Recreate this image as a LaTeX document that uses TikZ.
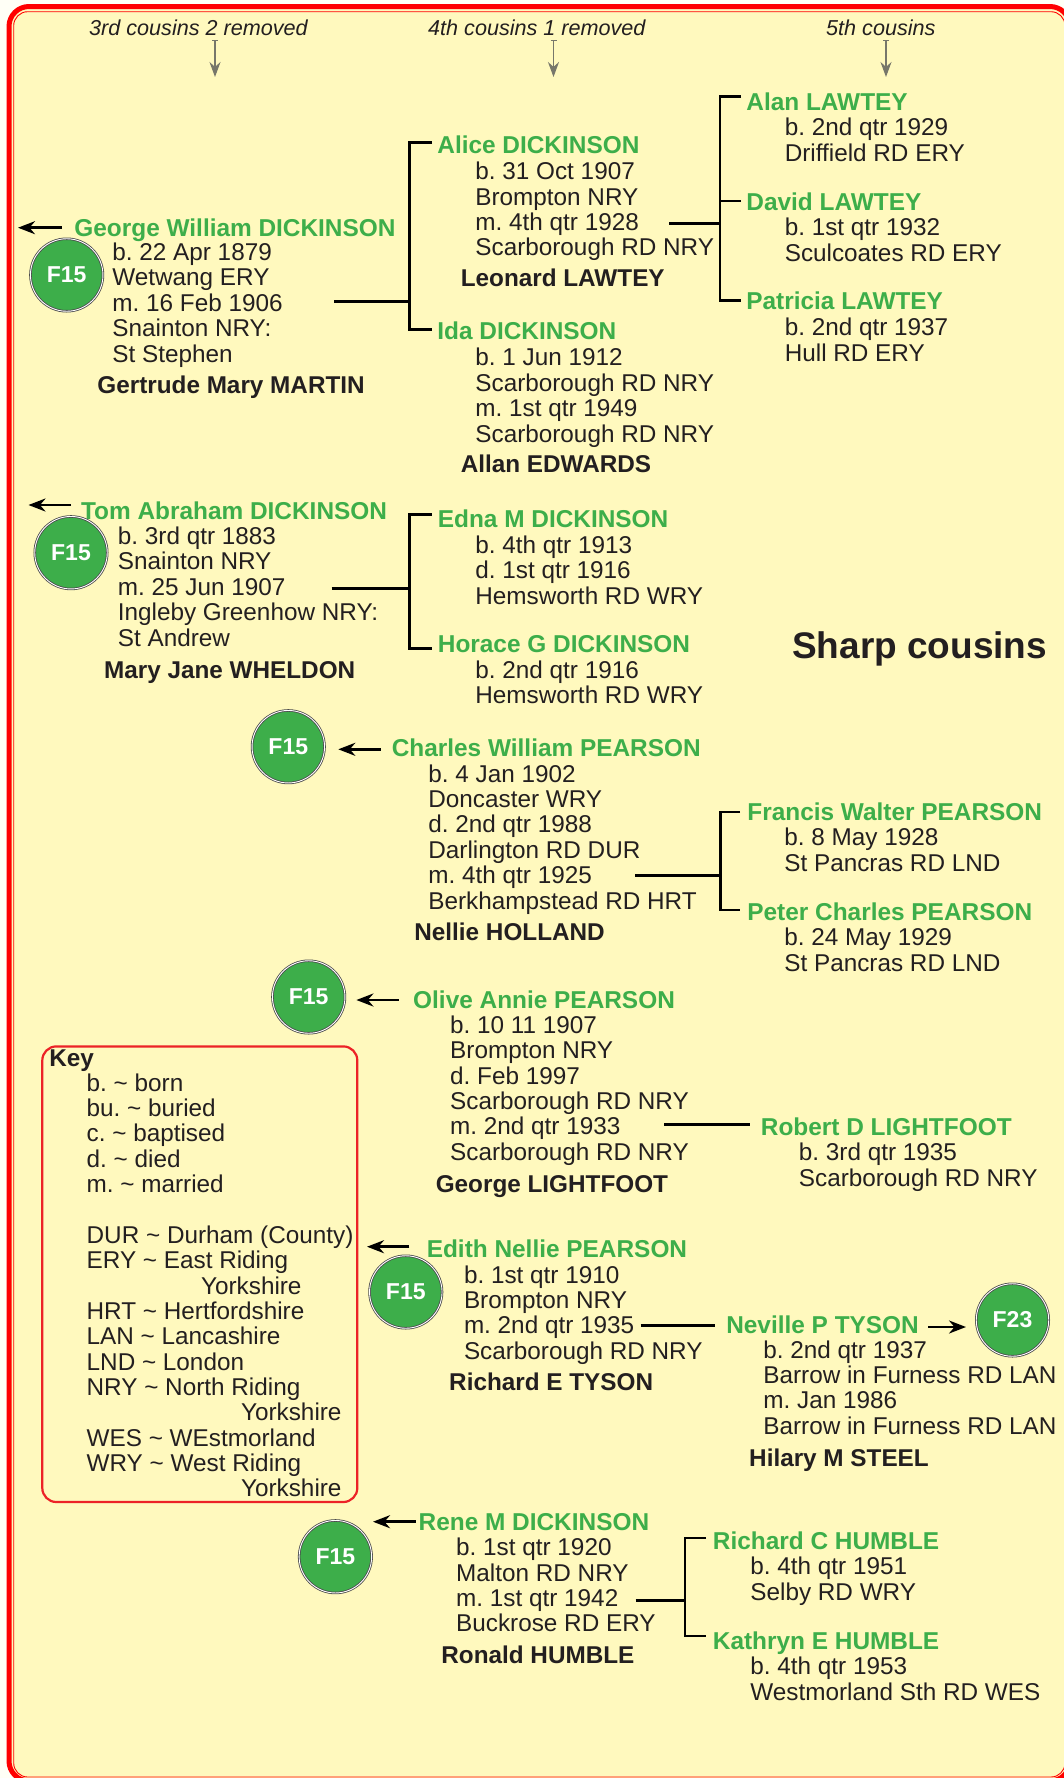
\documentclass[tikz,border=0pt]{standalone}
\usepackage{fontspec}
\setmainfont{Liberation Sans}
\usetikzlibrary{arrows.meta}
\definecolor{paper}{HTML}{FFF9BE}
\definecolor{outside}{HTML}{FFFFF6}
\definecolor{nameGreen}{HTML}{3DAE4A}
\definecolor{inkBlack}{HTML}{231F20}
\definecolor{ringGrey}{HTML}{4A4A4C}
\definecolor{tickGrey}{HTML}{77776A}
\definecolor{keyRed}{HTML}{EC2227}
\frenchspacing
\begin{document}
\begin{tikzpicture}[x=1pt,y=-1pt,>={Stealth[length=17pt,width=13pt]}]
\tikzset{
  person/.style={inner sep=0,anchor=base west,xshift=-.8pt,yshift=-1pt,text=nameGreen,font=\fontsize{24.4}{25.4}\selectfont\bfseries},
  details/.style={inner sep=0,anchor=base west,xshift=-.8pt,yshift=-1pt,align=left,text=inkBlack,font=\fontsize{24.3}{25.35}\selectfont},
  spouse/.style={inner sep=0,anchor=base west,xshift=-.8pt,yshift=-1pt,text=inkBlack,font=\fontsize{24.3}{25.4}\selectfont\bfseries},
  caption/.style={inner sep=0,anchor=base west,text=inkBlack,font=\fontsize{21.6}{25}\selectfont\itshape},
  famdisc/.style={circle,minimum size=72.5pt,inner sep=0,fill=nameGreen,draw=ringGrey,line width=.8pt,double=white,double distance=.9pt,text=white,font=\fontsize{23}{25}\selectfont\bfseries},
  branch/.style={line width=2.6pt,black},
  pointer/.style={->,line width=2.6pt,black},
  gentick/.style={{Bar[width=6pt,length=.8pt]}-{Stealth[length=15pt,width=11pt]},line width=1.2pt,tickGrey}
}
\useasboundingbox (0,0) rectangle (1064,1778);
% frame
\fill[outside] (0,0) rectangle (1064,1778);
\filldraw[fill=paper,draw=red,line width=5pt,rounded corners=20pt] (9,6.5) rectangle (1070,1781);
\draw[red,line width=.9pt,rounded corners=14pt] (13.7,11.7) rectangle (1065,1777);
% column captions
\node[caption] (capa) at (89,35) {3rd cousins 2 removed};
\node[caption] (capb) at (428,35) {4th cousins 1 removed};
\node[caption] (capc) at (826,35) {5th cousins};
\coordinate (capatop) at (215,40);
\coordinate (capaend) at (215,77);
\coordinate (capbtop) at (553.5,40);
\coordinate (capbend) at (553.5,77);
\coordinate (capctop) at (886,40);
\coordinate (capcend) at (886,77);
\draw[gentick] (capatop) -- (capaend);
\draw[gentick] (capbtop) -- (capbend);
\draw[gentick] (capctop) -- (capcend);
\node[inner sep=0,anchor=base west,text=inkBlack,font=\fontsize{37}{40}\selectfont\bfseries] (title) at (792,658) {Sharp cousins};

% George William
\node[person] (george) at (75,235) {George William DICKINSON};
\node[details] (georgeinfo) at (113,361) {b. 22 Apr 1879\\Wetwang ERY\\m. 16 Feb 1906\\Snainton NRY:\\St Stephen};
\node[spouse] (gertrude) at (98,392.7) {Gertrude Mary MARTIN};
\node[famdisc] (discgeorge) at (66.7,275) {F15};
\coordinate (georgetail) at (62,227.7);
\coordinate (georgetip) at (18,227.7);
\draw[pointer] (georgetail) -- (georgetip);
\node[person] (alice) at (438,152.7) {Alice DICKINSON};
\node[details] (aliceinfo) at (476,254.7) {b. 31 Oct 1907\\Brompton NRY\\m. 4th qtr 1928\\Scarborough RD NRY};
\node[spouse] (leonard) at (461.4,285.7) {Leonard LAWTEY};
\node[person] (ida) at (438,338.7) {Ida DICKINSON};
\node[details] (idainfo) at (476,441) {b. 1 Jun 1912\\Scarborough RD NRY\\m. 1st qtr 1949\\Scarborough RD NRY};
\node[spouse] (allan) at (461.4,471) {Allan EDWARDS};
\coordinate (georgeout) at (334,301.7);
\coordinate (georgebar) at (409.5,301.7);
\coordinate (alicestub) at (432,142.7);
\coordinate (idastub) at (432,329.3);
\draw[branch] (georgeout) -- (georgebar);
\draw[branch] (alicestub) -| (georgebar) |- (idastub);
\node[person] (alan) at (747,109) {Alan LAWTEY};
\node[details] (alaninfo) at (785.4,160) {b. 2nd qtr 1929\\Driffield RD ERY};
\node[person] (david) at (747,209) {David LAWTEY};
\node[details] (davidinfo) at (785.4,260) {b. 1st qtr 1932\\Sculcoates RD ERY};
\node[person] (patricia) at (747,308.7) {Patricia LAWTEY};
\node[details] (patriciainfo) at (785.4,360) {b. 2nd qtr 1937\\Hull RD ERY};
\coordinate (aliceout) at (669,223.3);
\coordinate (alicebar) at (720,223.3);
\coordinate (alanstub) at (741,96.7);
\coordinate (davidstub) at (741,201);
\coordinate (patriciastub) at (741,300.7);
\draw[branch] (aliceout) -- (alicebar);
\draw[branch] (alanstub) -| (alicebar) |- (patriciastub);
\draw[branch] (davidstub) -- (davidstub -| alicebar);

% Tom Abraham
\node[person] (tom) at (81.7,518.3) {Tom Abraham DICKINSON};
\node[details] (tominfo) at (118.5,645) {b. 3rd qtr 1883\\Snainton NRY\\m. 25 Jun 1907\\Ingleby Greenhow NRY:\\St Andrew};
\node[spouse] (mary) at (104.7,677) {Mary Jane WHELDON};
\node[famdisc] (disctom) at (71,552.7) {F15};
\coordinate (tomtail) at (71,505);
\coordinate (tomtip) at (28.5,505);
\draw[pointer] (tomtail) -- (tomtip);
\node[person] (edna) at (438.5,526) {Edna M DICKINSON};
\node[details] (ednainfo) at (476,603) {b. 4th qtr 1913\\d. 1st qtr 1916\\Hemsworth RD WRY};
\node[person] (horace) at (438.5,651.7) {Horace G DICKINSON};
\node[details] (horaceinfo) at (476,702.7) {b. 2nd qtr 1916\\Hemsworth RD WRY};
\coordinate (tomout) at (331.5,588.3);
\coordinate (tombar) at (409.5,588.3);
\coordinate (ednastub) at (431.6,514.7);
\coordinate (horacestub) at (431.6,648.3);
\draw[branch] (tomout) -- (tombar);
\draw[branch] (ednastub) -| (tombar) |- (horacestub);

% Charles William
\node[person] (charles) at (392.4,755.7) {Charles William PEARSON};
\node[details] (charlesinfo) at (429,908) {b. 4 Jan 1902\\Doncaster WRY\\d. 2nd qtr 1988\\Darlington RD DUR\\m. 4th qtr 1925\\Berkhampstead RD HRT};
\node[spouse] (nellie) at (415,939) {Nellie HOLLAND};
\node[famdisc] (disccharles) at (288.3,746.7) {F15};
\coordinate (charlestail) at (380.8,749.3);
\coordinate (charlestip) at (338.3,749.3);
\draw[pointer] (charlestail) -- (charlestip);
\node[person] (francis) at (748,819.3) {Francis Walter PEARSON};
\node[details] (francisinfo) at (785,870) {b. 8 May 1928\\St Pancras RD LND};
\node[person] (peter) at (748,919.3) {Peter Charles PEARSON};
\node[details] (peterinfo) at (785,970) {b. 24 May 1929\\St Pancras RD LND};
\coordinate (charlesout) at (635,875.3);
\coordinate (charlesbar) at (720.3,875.3);
\coordinate (francisstub) at (740,812);
\coordinate (peterstub) at (740,910);
\draw[branch] (charlesout) -- (charlesbar);
\draw[branch] (francisstub) -| (charlesbar) |- (peterstub);

% Olive Annie
\node[person] (olive) at (413.8,1007.7) {Olive Annie PEARSON};
\node[details] (oliveinfo) at (450.8,1159.3) {b. 10 11 1907\\Brompton NRY\\d. Feb 1997\\Scarborough RD NRY\\m. 2nd qtr 1933\\Scarborough RD NRY};
\node[spouse] (georgel) at (436.4,1191.3) {George LIGHTFOOT};
\node[famdisc] (discolive) at (308.7,997) {F15};
\coordinate (olivetail) at (398.5,1000);
\coordinate (olivetip) at (356.4,1000);
\draw[pointer] (olivetail) -- (olivetip);
\node[person] (robert) at (761.5,1134.3) {Robert D LIGHTFOOT};
\node[details] (robertinfo) at (799.5,1185) {b. 3rd qtr 1935\\Scarborough RD NRY};
\coordinate (oliveout) at (664,1124.7);
\coordinate (robertstub) at (749.7,1124.7);
\draw[branch] (oliveout) -- (robertstub);

% key
\draw[keyRed,line width=2.2pt,rounded corners=14pt] (42.3,1046.4) rectangle (357.3,1502);
\node[spouse] (keyhead) at (50,1065) {Key};
\node[details] (keylist) at (87.3,1495.8) {b. \textasciitilde{} born\\bu. \textasciitilde{} buried\\c. \textasciitilde{} baptised\\d. \textasciitilde{} died\\m. \textasciitilde{} married\\[25.35pt]DUR \textasciitilde{} Durham (County)\\ERY \textasciitilde{} East Riding\\\hspace*{114.4pt}Yorkshire\\HRT \textasciitilde{} Hertfordshire\\LAN \textasciitilde{} Lancashire\\LND \textasciitilde{} London\\NRY \textasciitilde{} North Riding\\\hspace*{154.4pt}Yorkshire\\WES \textasciitilde{} WEstmorland\\WRY \textasciitilde{} West Riding\\\hspace*{154.4pt}Yorkshire};

% Edith Nellie
\node[person] (edith) at (427.4,1256.7) {Edith Nellie PEARSON};
\node[details] (edithinfo) at (464.6,1358.3) {b. 1st qtr 1910\\Brompton NRY\\m. 2nd qtr 1935\\Scarborough RD NRY};
\node[spouse] (richarde) at (449.8,1389.3) {Richard E TYSON};
\node[famdisc] (discedith) at (405.8,1292) {F15};
\coordinate (edithtail) at (409.4,1246.7);
\coordinate (edithtip) at (367,1246.7);
\draw[pointer] (edithtail) -- (edithtip);
\node[person] (neville) at (726.9,1332.7) {Neville P TYSON};
\node[details] (nevilleinfo) at (764,1433.3) {b. 2nd qtr 1937\\Barrow in Furness RD LAN\\m. Jan 1986\\Barrow in Furness RD LAN};
\node[spouse] (hilary) at (749.8,1465.7) {Hilary M STEEL};
\node[famdisc] (discneville) at (1012.5,1320) {F23};
\coordinate (edithout) at (640.6,1325.7);
\coordinate (nevillestub) at (714.7,1325.7);
\draw[branch] (edithout) -- (nevillestub);
\coordinate (nevilletail) at (928,1327);
\coordinate (nevilletip) at (966,1327);
\draw[pointer] (nevilletail) -- (nevilletip);

% Rene M
\node[person] (rene) at (419.3,1529.3) {Rene M DICKINSON};
\node[details] (reneinfo) at (456.8,1630.7) {b. 1st qtr 1920\\Malton RD NRY\\m. 1st qtr 1942\\Buckrose RD ERY};
\node[spouse] (ronald) at (442,1662.7) {Ronald HUMBLE};
\node[famdisc] (discrene) at (335.4,1556.7) {F15};
\coordinate (renetail) at (415.9,1521.7);
\coordinate (renetip) at (373,1521.7);
\draw[pointer] (renetail) -- (renetip);
\node[person] (richard) at (713.5,1548.7) {Richard C HUMBLE};
\node[details] (richardinfo) at (751,1599.3) {b. 4th qtr 1951\\Selby RD WRY};
\node[person] (kathryn) at (713.5,1648.3) {Kathryn E HUMBLE};
\node[details] (kathryninfo) at (751,1699) {b. 4th qtr 1953\\Westmorland Sth RD WES};
\coordinate (reneout) at (635.5,1600.3);
\coordinate (renebar) at (685,1600.3);
\coordinate (richardstub) at (706,1538);
\coordinate (kathrynstub) at (706,1636);
\draw[branch] (reneout) -- (renebar);
\draw[branch] (richardstub) -| (renebar) |- (kathrynstub);
\end{tikzpicture}
\end{document}
